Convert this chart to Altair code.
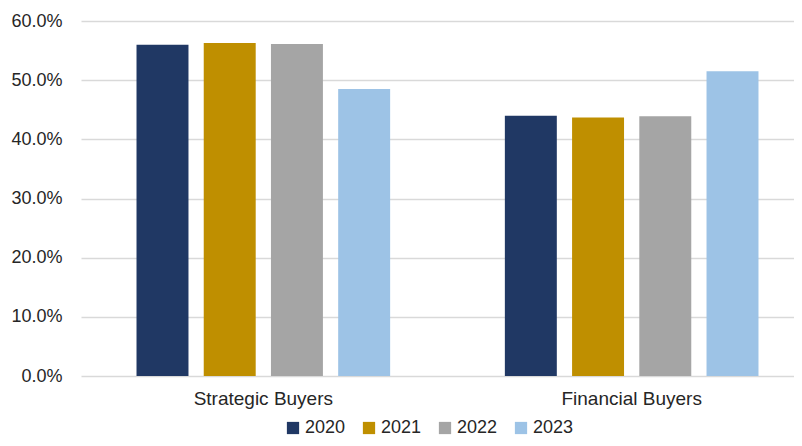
import altair as alt
import pandas as pd

categories = ["Strategic Buyers", "Financial Buyers"]
years = ["2020", "2021", "2022", "2023"]
strategic = [0.560, 0.563, 0.561, 0.485]
financial = [0.440, 0.437, 0.439, 0.515]
colors = ["#203864", "#BF8F00", "#A5A5A5", "#9DC3E6"]
y_ticks = [0.0, 0.1, 0.2, 0.3, 0.4, 0.5, 0.6]

rows = []
for y, v in zip(years, strategic):
    rows.append({"buyer": categories[0], "year": y, "share": v})
for y, v in zip(years, financial):
    rows.append({"buyer": categories[1], "year": y, "share": v})
df = pd.DataFrame(rows)

FONT = "Liberation Sans"
TXT = "#262626"

chart = alt.Chart(df).mark_bar().encode(
    x=alt.X("buyer:N", sort=categories, title=None,
            scale=alt.Scale(range=[0, 733], paddingInner=0.27, paddingOuter=0.13),
            axis=alt.Axis(labelAngle=0, ticks=False, domain=False, labelPadding=13,
                          labelFontSize=19, labelFont=FONT, labelColor=TXT)),
    xOffset=alt.XOffset("year:N", sort=years,
                        scale=alt.Scale(paddingInner=0.227, paddingOuter=0.1135)),
    y=alt.Y("share:Q", title=None,
            scale=alt.Scale(domain=[0, 0.6], nice=False),
            axis=alt.Axis(values=y_ticks, format=".1%", ticks=False, domain=False,
                          labelPadding=19, labelFontSize=18, labelFont=FONT, labelColor=TXT,
                          gridColor="#D9D9D9", gridWidth=1.3)),
    color=alt.Color("year:N", sort=years, title=None,
                    scale=alt.Scale(domain=years, range=colors),
                    legend=alt.Legend(orient="none", direction="horizontal",
                                      legendX=203, legendY=398,
                                      symbolType="square", symbolSize=150,
                                      symbolStrokeWidth=0, labelFontSize=18,
                                      labelFont=FONT, labelColor=TXT,
                                      labelOffset=3, columnPadding=14)),
).properties(
    width=713, height=355,
    background="white",
    autosize=alt.AutoSizeParams(type="none"),
    padding={"left": 73, "top": 13, "right": 0, "bottom": 62},
).configure_view(stroke=None)

chart.save("out.html", embed_options={"renderer": "svg", "actions": False})
